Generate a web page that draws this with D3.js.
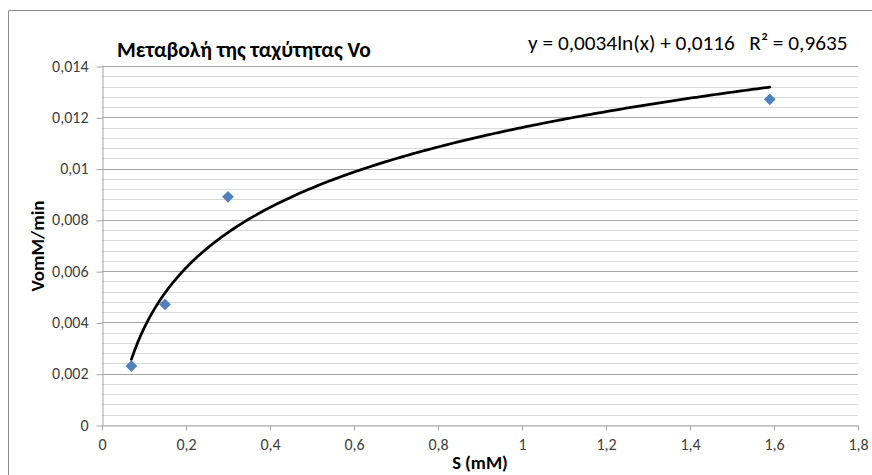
<!DOCTYPE html>
<html><head><meta charset="utf-8">
<script src="https://cdn.jsdelivr.net/npm/d3@7"></script>
<style>
body{margin:0;background:#fff;}
svg text{font-family:Carlito, Lato, "Liberation Sans", sans-serif;}
</style>
</head><body><svg id="c" width="872" height="475"></svg>
<script>
// ---- data ----
const sValues = [0.07, 0.15, 0.30, 1.59];
const voValues = [0.0023, 0.0047, 0.0089, 0.0127];
const xTicks = [0, 0.2, 0.4, 0.6, 0.8, 1.0, 1.2, 1.4, 1.6, 1.8];
const yTicks = [0, 0.002, 0.004, 0.006, 0.008, 0.010, 0.012, 0.014];
const yMinorStep = 0.0004;
const trendA = 0.0034, trendB = 0.0116;
const chartTitle = "Μεταβολή της ταχύτητας Vo";
const equationText = "y = 0,0034ln(x) + 0,0116   R² = 0,9635";
const xTitle = "S (mM)";
const yTitle = "VomM/min";

const locale = d3.formatLocale({decimal: ",", thousands: ".", grouping: [3], currency: ["", ""]});
const fmt = v => locale.format("~g")(+v.toFixed(4));

const svg = d3.select("#c");
const x = d3.scaleLinear().domain([0, 1.8]).range([102, 858]);
const y = d3.scaleLinear().domain([0, 0.014]).range([425, 66]);

// outer chart border
svg.append("path").attr("d", "M8.5,480 V10.5 H880").attr("fill", "none").attr("stroke", "#8c8c8c").attr("stroke-width", 1);

// minor gridlines
const minor = d3.range(0, 0.014 + 1e-9, yMinorStep);
svg.append("g").selectAll("line").data(minor).join("line")
  .attr("x1", x(0)).attr("x2", x(1.8))
  .attr("y1", d => Math.round(y(d)) + 0.5).attr("y2", d => Math.round(y(d)) + 0.5)
  .attr("stroke", "#d9d9d9");
// major gridlines
svg.append("g").selectAll("line").data(yTicks.slice(1)).join("line")
  .attr("x1", x(0)).attr("x2", x(1.8))
  .attr("y1", d => Math.round(y(d)) + 0.5).attr("y2", d => Math.round(y(d)) + 0.5)
  .attr("stroke", "#a6a6a6");

// axes
const yAxis = svg.append("g").attr("transform", `translate(${x(0) + 0.5},0)`)
  .call(d3.axisLeft(y).tickValues(yTicks).tickFormat(fmt).tickSize(6).tickSizeOuter(0).tickPadding(8));
const xAxis = svg.append("g").attr("transform", `translate(0,${Math.round(y(0)) + 0.5})`)
  .call(d3.axisBottom(x).tickValues(xTicks).tickFormat(fmt).tickSize(5).tickSizeOuter(0).tickPadding(8));
[yAxis, xAxis].forEach(g => {
  g.select(".domain").attr("stroke", "#a6a6a6");
  g.selectAll(".tick line").attr("stroke", "#a6a6a6");
  g.selectAll(".tick text").attr("fill", "#404040").style("font-size", "16px");
});
yAxis.selectAll(".tick line").attr("transform", "translate(0,0.5)");

// trendline
const trend = d3.range(0, 201).map(i => {
  const s = sValues[0] + (sValues[sValues.length - 1] - sValues[0]) * i / 200;
  return [s, trendA * Math.log(s) + trendB];
});
svg.append("path").datum(trend)
  .attr("d", d3.line().x(d => x(d[0])).y(d => y(d[1])).curve(d3.curveLinear))
  .attr("fill", "none").attr("stroke", "#000").attr("stroke-width", 2.75).attr("stroke-linecap", "round");

// markers
svg.append("g").selectAll("path").data(sValues.map((s, i) => [s, voValues[i]])).join("path")
  .attr("transform", d => `translate(${x(d[0])},${y(d[1])})`)
  .attr("d", d3.symbol().type(d3.symbolDiamond2).size(88))
  .attr("fill", "#4f81bd");

// titles
svg.append("text").attr("x", 117).attr("y", 57).text(chartTitle)
  .style("font-size", "21.5px").style("font-weight", "bold").attr("fill", "#000");
svg.append("text").attr("x", 528).attr("y", 50).text(equationText)
  .style("font-size", "21.3px").style("white-space", "pre").attr("fill", "#000");
svg.append("text").attr("x", 480).attr("y", 469).attr("text-anchor", "middle").text(xTitle)
  .style("font-size", "18.5px").style("font-weight", "bold").attr("fill", "#000");
svg.append("text").attr("transform", "translate(44,246) rotate(-90)").attr("text-anchor", "middle").text(yTitle)
  .style("font-size", "19px").style("font-weight", "bold").attr("fill", "#000");
</script>
</body></html>
